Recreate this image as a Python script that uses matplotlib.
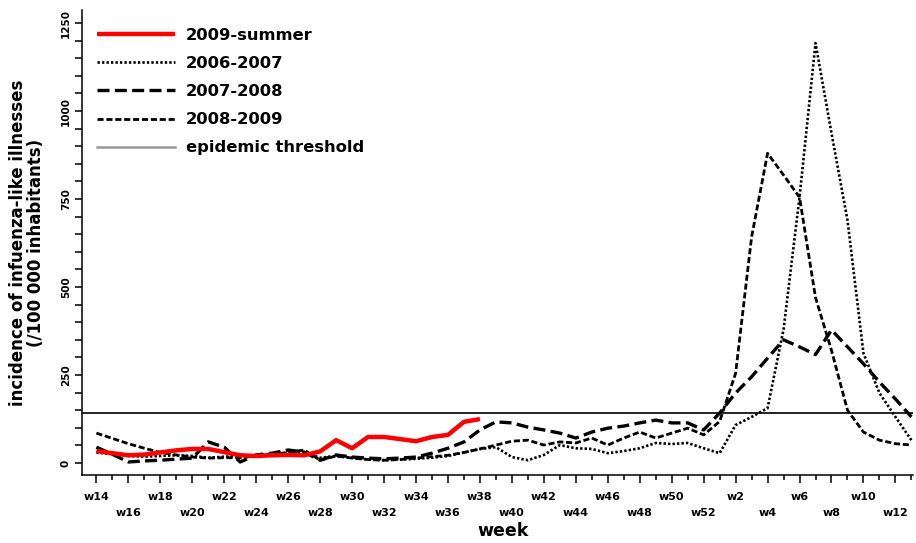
import numpy as np
import matplotlib
matplotlib.use("Agg")
import matplotlib.pyplot as plt
from matplotlib.lines import Line2D

# ---- data ----
weeks = [f"w{w}" for w in range(14, 53)] + [f"w{w}" for w in range(1, 14)]

summer_2009 = [34, 28, 22, 24, 30, 36, 40, 40, 31, 22, 20, 22, 23, 22, 33,
               65, 42, 74, 74, 68, 62, 74, 80, 117, 125]

season_2006_2007 = [30, 25, 20, 18, 20, 22, 20, 15, 18, 20, 22, 25, 28, 30, 15,
                    20, 15, 10, 8, 10, 12, 15, 20, 30, 40,
                    45, 17, 8, 23, 51, 42, 40, 28, 34, 42, 57, 54, 57, 42,
                    28, 108, 131, 156, 380, 755, 1193, 937, 690, 312, 199, 131, 65]

season_2007_2008 = [45, 25, 3, 6, 8, 11, 14, 60, 45, 3, 23, 28, 37, 31, 8,
                    23, 17, 14, 12, 14, 17, 28, 42, 60, 94,
                    117, 114, 102, 94, 85, 71, 88, 99, 105, 114, 122, 114, 114, 94,
                    142, 199, 245, 298, 350, 330, 308, 378, 330, 282, 230, 182, 131]

season_2008_2009 = [85, 70, 55, 42, 30, 23, 17, 14, 15, 15, 20, 25, 30, 37, 8,
                    20, 14, 10, 8, 10, 14, 18, 22, 30, 40,
                    51, 62, 65, 51, 60, 57, 71, 51, 71, 88, 71, 85, 99, 80,
                    118, 255, 642, 880, 818, 755, 470, 320, 150, 88, 65, 55, 51]

threshold = 142

series_labels = ["2009-summer", "2006-2007", "2007-2008", "2008-2009",
                 "epidemic threshold"]

# ---- plot ----
plt.rcParams['font.family'] = ['DejaVu Sans']
plt.rcParams['font.weight'] = 'bold'

fig = plt.figure(figsize=(9.16, 5.43), dpi=100)
ax = fig.add_axes([82 / 916, 68 / 543, (913 - 82) / 916, (475 - 10) / 543])

x = np.arange(len(weeks))

dot_style = dict(color='black', lw=1.9, linestyle=(0, (0.9, 0.8)))
long_style = dict(color='black', lw=2.4, linestyle=(0, (3.6, 1.6)))
med_style = dict(color='black', lw=2.0, linestyle=(0, (2.2, 1.0)))
red_style = dict(color='red', lw=3.2, solid_capstyle='butt')

ax.axhline(threshold, color='black', lw=1.2, zorder=1)
ax.plot(x, season_2006_2007, **dot_style)
ax.plot(x, season_2007_2008, **long_style)
ax.plot(x, season_2008_2009, **med_style)
ax.plot(x[:len(summer_2009)], summer_2009, **red_style)

ax.set_xlim(-0.9, 51.1)
ax.set_ylim(-34, 1287)
for s in ['top', 'right']:
    ax.spines[s].set_visible(False)
for s in ['left', 'bottom']:
    ax.spines[s].set_linewidth(1.1)

# x ticks: even-indexed weeks labelled, alternating rows
major_idx = x[::2]
labels = []
for i in major_idx:
    lab = weeks[i]
    if i % 4 == 2:
        lab = "\n" + lab
    labels.append(lab)
ax.set_xticks(major_idx)
ax.set_xticklabels(labels, fontsize=8, fontweight='bold', linespacing=1.75)
ax.set_xticks(x[1::2], minor=True)
ax.tick_params(axis='x', which='major', length=6, width=1.1, pad=6.5)
ax.tick_params(axis='x', which='minor', length=3.5, width=1.1)

# y ticks
ax.set_yticks(np.arange(0, 1251, 250))
ax.set_yticks(np.arange(0, 1251, 50), minor=True)
ax.tick_params(axis='y', which='major', length=5, width=1.1, pad=3,
               labelsize=7.5, labelrotation=90)
ax.tick_params(axis='y', which='minor', length=5, width=1.1)
for t in ax.get_yticklabels():
    t.set_verticalalignment('center')
    t.set_fontweight('bold')

ax.set_ylabel("incidence of infuenza-like illnesses\n(/100 000 inhabitants)",
              fontsize=12, fontweight='bold', linespacing=1.0)
ax.yaxis.set_label_coords(-0.044, 0.5)
ax.set_xlabel("week", fontsize=12.5, fontweight='bold')
ax.xaxis.set_label_coords(0.507, -0.101)

handles = [Line2D([], [], **red_style),
           Line2D([], [], **dot_style),
           Line2D([], [], **long_style),
           Line2D([], [], **med_style),
           Line2D([], [], color='#999999', lw=1.8)]
ax.legend(handles, series_labels, loc='upper left',
          bbox_to_anchor=(97 / 916, 1 - 28 / 543), bbox_transform=fig.transFigure,
          frameon=False, prop={'weight': 'bold', 'size': 11.8},
          handlelength=4.75, handletextpad=0.67, labelspacing=0.8,
          borderpad=0, borderaxespad=0)

fig.savefig("out.png", dpi=100)
